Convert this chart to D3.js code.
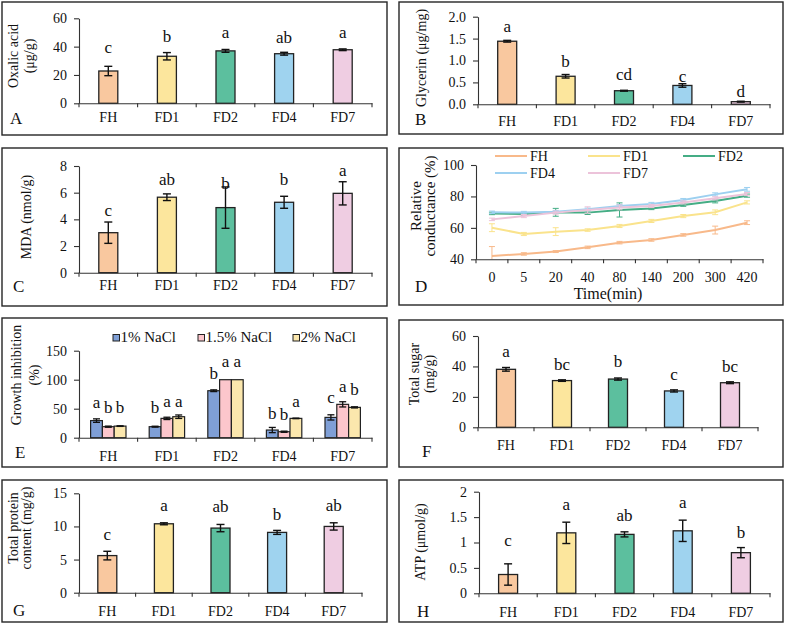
<!DOCTYPE html>
<html>
<head>
<meta charset="utf-8">
<title>Strain traits A-H</title>
<script src="https://d3js.org/d3.v7.min.js"></script>
<style>
  html, body { margin:0; padding:0; background:#fff; }
  svg { display:block; font-family:"Liberation Serif","Times New Roman",serif; }
</style>
</head>
<body>
<svg id="canvas" width="787" height="630"></svg>
<script>
var groups = ["FH", "FD1", "FD2", "FD4", "FD7"];
var groupColors = ["#f9c89f", "#fce69d", "#5cbf9e", "#9fd3ef", "#efcde2"];

// A - oxalic acid
var oxalic = [22.8, 33.2, 37.0, 35.0, 37.8];
var oxalicErr = [3.3, 2.6, 1.0, 1.0, 0.6];
var oxalicSig = ["c", "b", "a", "ab", "a"];
var oxalicSigAt = [35.3, 43.5, 45.9, 42.3, 45.9];

// B - glycerin
var glycerin = [1.44, 0.64, 0.31, 0.43, 0.06];
var glycerinErr = [0.02, 0.04, 0.01, 0.04, 0.01];
var glycerinSig = ["a", "b", "cd", "c", "d"];
var glycerinSigAt = [1.66, 0.86, 0.555, 0.5, 0.17];

// C - MDA
var mda = [3.0, 5.66, 4.88, 5.28, 5.95];
var mdaErr = [0.8, 0.25, 1.55, 0.45, 0.87];
var mdaSig = ["c", "ab", "b", "b", "a"];
var mdaSigAt = [4.25, 6.58, 6.3, 6.58, 7.28];

// D - relative conductance over time
var times = ["0", "5", "20", "40", "80", "140", "200", "300", "420"];
var condFH  = [42.1, 43.4, 44.9, 47.6, 50.6, 52.3, 55.5, 58.6, 63.3];
var condFD1 = [60.1, 56.1, 57.6, 58.6, 61.2, 64.4, 67.5, 69.9, 76.2];
var condFD2 = [69.2, 68.8, 69.9, 69.7, 71.4, 72.4, 74.5, 77.1, 80.5];
var condFD4 = [69.9, 69.7, 70.3, 71.8, 73.9, 75.2, 77.7, 81.3, 84.5];
var condFD7 = [65.4, 67.5, 69.7, 71.4, 73.0, 73.9, 76.2, 78.8, 81.5];
var condErrFH  = [6, 0.8, 0.6, 0.8, 0.8, 0.8, 0.8, 2.5, 1.2];
var condErrFD1 = [2.5, 1, 2.5, 0.8, 1, 1, 1, 1.5, 1];
var condErrFD2 = [0.8, 0.8, 2.5, 1.2, 4.5, 0.8, 0.8, 1.2, 1];
var condErrFD4 = [0.8, 0.8, 0.8, 0.8, 1, 1, 1, 1, 1.2];
var condErrFD7 = [0.8, 1, 1, 2, 1.5, 1, 1, 1, 1];
var lineColors = ["#f8b98a", "#fae38c", "#45ad85", "#9dd0f0", "#ecc3da"];

// E - growth inhibition under NaCl
var nacl = ["1% NaCl", "1.5% NaCl", "2% NaCl"];
var naclColors = ["#7f9fd6", "#fcc6cc", "#fbe7ad"];
var inhib1  = [29.5, 19, 81, 13.2, 35];
var inhib15 = [19, 33.3, 100, 10.3, 57.5];
var inhib2  = [20, 36.2, 100, 33.3, 52.3];
var inhibErr1  = [3, 0.8, 1.5, 4.5, 4.5];
var inhibErr15 = [1, 2, 0, 1, 4.5];
var inhibErr2  = [0.5, 3, 0, 0.5, 1];
var inhibSig1  = ["a", "b", "b", "b", "c"];
var inhibSig15 = ["b", "a", "a", "b", "a"];
var inhibSig2  = ["b", "a", "a", "a", "b"];
var inhibSigAt1  = [50.6, 42, 102, 33, 59];
var inhibSigAt15 = [42, 53.4, 122, 30.5, 79];
var inhibSigAt2  = [42, 53.4, 122, 53.4, 73.5];

// F - total sugar
var sugar = [38.1, 30.7, 31.7, 23.9, 29.3];
var sugarErr = [1.2, 0.5, 0.7, 0.7, 0.6];
var sugarSig = ["a", "bc", "b", "c", "bc"];
var sugarSigAt = [46.4, 37.7, 39.9, 31.1, 36.6];

// G - total protein
var protein = [5.6, 10.4, 9.75, 9.1, 10.0];
var proteinErr = [0.65, 0.15, 0.55, 0.3, 0.55];
var proteinSig = ["c", "a", "ab", "b", "ab"];
var proteinSigAt = [8.0, 12.3, 12.15, 11.0, 12.3];

// H - ATP
var atp = [0.37, 1.19, 1.16, 1.23, 0.8];
var atpErr = [0.21, 0.21, 0.05, 0.21, 0.1];
var atpSig = ["c", "a", "ab", "a", "b"];
var atpSigAt = [0.94, 1.64, 1.42, 1.67, 1.08];

var svg = d3.select("#canvas");
svg.append("rect").attr("width", 787).attr("height", 630).attr("fill", "white");

function frame(f) {
  svg.append("rect").attr("x", f[0]).attr("y", f[1]).attr("width", f[2]).attr("height", f[3])
    .attr("fill", "none").attr("stroke", "#262626").attr("stroke-width", 1.4);
}

function axes(g, x, y, p) {
  var ya = g.append("g").attr("transform", "translate(" + p.xr[0] + ",0)")
    .call(d3.axisLeft(y).tickValues(p.ticks).tickFormat(p.fmt).tickSize(5).tickPadding(7).tickSizeOuter(0));
  var xa = g.append("g").attr("transform", "translate(0," + p.yr[0] + ")")
    .call(d3.axisBottom(x).tickSize(0).tickPadding(p.pad).tickSizeOuter(0));
  [ya, xa].forEach(function(a) {
    a.attr("font-family", null).attr("font-size", null);
    a.selectAll("path,line").attr("stroke", "#333").attr("stroke-width", 1.1);
    a.selectAll("text").attr("fill", "#111").style("font-size", "14px");
  });
  var dom = x.domain();
  xa.selectAll("line.bound").data(d3.range(dom.length + 1)).join("line")
    .attr("class", "bound")
    .attr("x1", function(i) { return i < dom.length ? x(dom[i]) : x.range()[1]; })
    .attr("x2", function(i) { return i < dom.length ? x(dom[i]) : x.range()[1]; })
    .attr("y1", 0).attr("y2", 4)
    .attr("stroke", "#333").attr("stroke-width", 1.1);
}

function titles(p) {
  p.title.forEach(function(t, i) {
    svg.append("text").attr("transform", "translate(" + p.titleX[i] + "," + p.titleY + ") rotate(-90)")
      .attr("text-anchor", "middle").style("font-size", (p.titleSize || 14) + "px").attr("fill", "#111").text(t);
  });
  svg.append("text").attr("x", p.letterAt[0]).attr("y", p.letterAt[1])
    .style("font-size", "17px").attr("fill", "#111").text(p.letter);
}

function errorBars(g, cx, vals, errs, y, color, cap, width) {
  var eb = g.append("g").attr("stroke", color).attr("stroke-width", width);
  vals.forEach(function(v, i) {
    if (!errs[i]) return;
    var t = y(v + errs[i]), b = y(v - errs[i]), xc = cx(i);
    eb.append("line").attr("x1", xc).attr("x2", xc).attr("y1", t).attr("y2", b);
    eb.append("line").attr("x1", xc - cap).attr("x2", xc + cap).attr("y1", t).attr("y2", t);
    eb.append("line").attr("x1", xc - cap).attr("x2", xc + cap).attr("y1", b).attr("y2", b);
  });
}

function letters(g, cx, sig, at, y) {
  g.selectAll(null).data(sig).join("text")
    .attr("x", function(d, i) { return cx(i); })
    .attr("y", function(d, i) { return y(at[i]); })
    .attr("text-anchor", "middle").style("font-size", "17px").attr("fill", "#111")
    .text(function(d) { return d; });
}

function barPanel(p) {
  frame(p.frame);
  var g = svg.append("g");
  var x = d3.scaleBand().domain(groups).range(p.xr);
  var y = d3.scaleLinear().domain(p.dom).range(p.yr);
  var bw = 19;
  var cx = function(i) { return x(groups[i]) + x.bandwidth() / 2; };
  g.selectAll("rect.bar").data(p.vals).join("rect").attr("class", "bar")
    .attr("x", function(d, i) { return cx(i) - bw / 2; })
    .attr("y", function(d) { return y(d); })
    .attr("width", bw)
    .attr("height", function(d) { return y(0) - y(d); })
    .attr("fill", function(d, i) { return groupColors[i]; })
    .attr("stroke", "#222").attr("stroke-width", 1.3);
  errorBars(g, cx, p.vals, p.errs, y, "#111", 4, 1.4);
  axes(g, x, y, p);
  letters(g, cx, p.sig, p.sigAt, y);
  titles(p);
}

barPanel({ frame: [2, 2, 385, 133], xr: [79, 372], yr: [103.3, 18.3], dom: [0, 60], ticks: [0, 20, 40, 60],
  fmt: d3.format("d"), pad: 8.7, vals: oxalic, errs: oxalicErr, sig: oxalicSig, sigAt: oxalicSigAt,
  title: ["Oxalic acid", "(\u03bcg/g)"], titleX: [18, 34], titleY: 56, letter: "A", letterAt: [10, 124] });

barPanel({ frame: [399, 2, 384, 132], xr: [478, 770], yr: [104.3, 16.7], dom: [0, 2], ticks: [0, 0.5, 1, 1.5, 2],
  fmt: d3.format(".1f"), pad: 11.7, vals: glycerin, errs: glycerinErr, sig: glycerinSig, sigAt: glycerinSigAt,
  title: ["Glycerin (\u03bcg/mg)"], titleX: [426], titleY: 58, letter: "B", letterAt: [415, 125] });

barPanel({ frame: [2, 148, 385, 158], xr: [79, 372], yr: [272.7, 166], dom: [0, 8], ticks: [0, 2, 4, 6, 8],
  fmt: d3.format("d"), pad: 7.5, vals: mda, errs: mdaErr, sig: mdaSig, sigAt: mdaSigAt,
  title: ["MDA (nmol/g)"], titleX: [31], titleY: 217, letter: "C", letterAt: [13, 291.7] });

barPanel({ frame: [399, 320, 384, 147], xr: [478, 758], yr: [427.3, 336], dom: [0, 60], ticks: [0, 20, 40, 60],
  fmt: d3.format("d"), pad: 12.7, vals: sugar, errs: sugarErr, sig: sugarSig, sigAt: sugarSigAt,
  title: ["Total sugar", "(mg/g)"], titleX: [419, 434], titleY: 374, letter: "F", letterAt: [422, 456.7] });

barPanel({ frame: [2, 480, 385, 142], xr: [79, 362], yr: [592.7, 493.3], dom: [0, 15], ticks: [0, 5, 10, 15],
  fmt: d3.format("d"), pad: 13, vals: protein, errs: proteinErr, sig: proteinSig, sigAt: proteinSigAt,
  title: ["Total protein", "content (mg/g)"], titleX: [18, 31], titleY: 528, letter: "G", letterAt: [13, 615.7] });

barPanel({ frame: [399, 480, 384, 142], xr: [479, 770], yr: [593.3, 491.7], dom: [0, 2], ticks: [0, 0.5, 1, 1.5, 2],
  fmt: d3.format("~g"), pad: 13.4, vals: atp, errs: atpErr, sig: atpSig, sigAt: atpSigAt,
  title: ["ATP (\u03bcmol/g)"], titleX: [425], titleY: 542, letter: "H", letterAt: [417, 616.7] });

// D - line chart
(function() {
  var p = { frame: [399, 148, 384, 157], xr: [476, 763], yr: [259.3, 165], dom: [40, 100], ticks: [40, 60, 80, 100],
    fmt: d3.format("d"), pad: 12.5, title: ["Relative", "conductance (%)"], titleX: [421, 435], titleY: 206,
    titleSize: 15, letter: "D", letterAt: [415, 291.7] };
  frame(p.frame);
  var g = svg.append("g");
  var x = d3.scaleBand().domain(times).range(p.xr);
  var y = d3.scaleLinear().domain(p.dom).range(p.yr);
  var cx = function(i) { return x(times[i]) + x.bandwidth() / 2; };
  svg.append("clipPath").attr("id", "clipD").append("rect")
    .attr("x", p.xr[0]).attr("y", p.yr[1] - 10).attr("width", p.xr[1] - p.xr[0]).attr("height", p.yr[0] - p.yr[1] + 10);
  var plot = g.append("g").attr("clip-path", "url(#clipD)");
  var series = [condFH, condFD1, condFD2, condFD4, condFD7];
  var errs = [condErrFH, condErrFD1, condErrFD2, condErrFD4, condErrFD7];
  var line = d3.line().x(function(d, i) { return cx(i); }).y(function(d) { return y(d); });
  series.forEach(function(s, k) {
    errorBars(plot, cx, s, errs[k], y, lineColors[k], 3, 1);
    plot.append("path").datum(s).attr("d", line).attr("fill", "none")
      .attr("stroke", lineColors[k]).attr("stroke-width", 2);
  });
  axes(g, x, y, p);
  svg.append("text").attr("x", 608).attr("y", 299).attr("text-anchor", "middle")
    .style("font-size", "16px").attr("fill", "#111").text("Time(min)");
  titles(p);
  // legend
  var lx = [495, 588, 683, 495, 588], ly = [156, 156, 156, 173, 173];
  groups.forEach(function(name, k) {
    svg.append("line").attr("x1", lx[k]).attr("x2", lx[k] + 32).attr("y1", ly[k]).attr("y2", ly[k])
      .attr("stroke", lineColors[k]).attr("stroke-width", 2);
    svg.append("text").attr("x", lx[k] + 35).attr("y", ly[k] + 5).style("font-size", "14px")
      .attr("fill", "#111").text(name);
  });
})();

// E - grouped bars
(function() {
  var p = { frame: [2, 318, 385, 149], xr: [79, 372], yr: [437.7, 350.7], dom: [0, 150], ticks: [0, 50, 100, 150],
    fmt: d3.format("d"), pad: 13, title: ["Growth inhibition", "(%)"], titleX: [21, 39], titleY: 375,
    letter: "E", letterAt: [15, 458.3] };
  frame(p.frame);
  var g = svg.append("g");
  var x = d3.scaleBand().domain(groups).range(p.xr);
  var xs = d3.scaleBand().domain(nacl).range([0, 35.4]);
  var y = d3.scaleLinear().domain(p.dom).range(p.yr);
  var vals = [inhib1, inhib15, inhib2], errs = [inhibErr1, inhibErr15, inhibErr2];
  var sigs = [inhibSig1, inhibSig15, inhibSig2], sigAt = [inhibSigAt1, inhibSigAt15, inhibSigAt2];
  vals.forEach(function(v, k) {
    var cx = function(i) { return x(groups[i]) + x.bandwidth() / 2 - 17.7 + xs(nacl[k]) + xs.bandwidth() / 2; };
    g.selectAll(null).data(v).join("rect")
      .attr("x", function(d, i) { return cx(i) - xs.bandwidth() / 2; })
      .attr("y", function(d) { return y(d); })
      .attr("width", xs.bandwidth())
      .attr("height", function(d) { return y(0) - y(d); })
      .attr("fill", naclColors[k]).attr("stroke", "#222").attr("stroke-width", 1.2);
    errorBars(g, cx, v, errs[k], y, "#111", 3.5, 1.3);
    letters(g, cx, sigs[k], sigAt[k], y);
  });
  axes(g, x, y, p);
  titles(p);
  var bx = [113, 198, 293];
  nacl.forEach(function(name, k) {
    svg.append("rect").attr("x", bx[k]).attr("y", 334.5).attr("width", 6.5).attr("height", 6.5)
      .attr("fill", naclColors[k]).attr("stroke", "#222").attr("stroke-width", 1);
    svg.append("text").attr("x", bx[k] + 7.5).attr("y", 341.7).style("font-size", "15px")
      .attr("fill", "#111").text(name);
  });
})();
</script>
</body>
</html>
